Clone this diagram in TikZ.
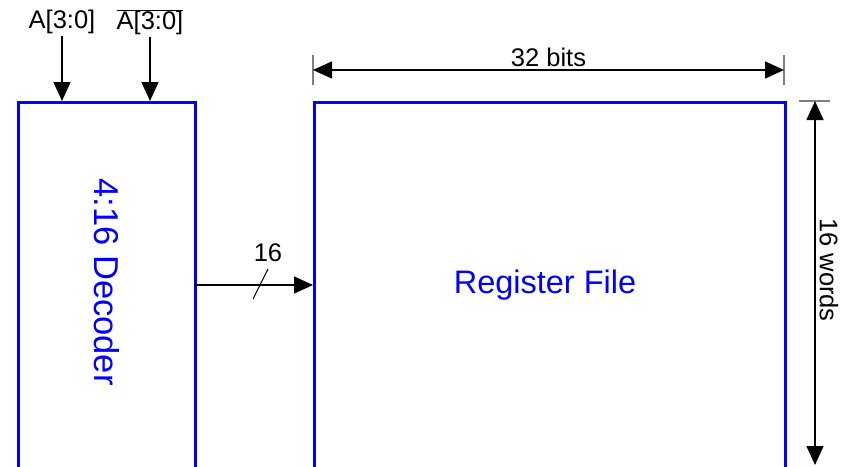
\documentclass[tikz,border=0pt]{standalone}
\usepackage{fontspec}
\setmainfont{Liberation Sans}
\usepackage{tikz}
\usetikzlibrary{arrows.meta, positioning, calc}

\begin{document}
\begin{tikzpicture}[
    x=1pt, y=-1pt,
    block/.style={rectangle, draw=blue, line width=2.8pt, anchor=north west, inner sep=0pt},
    blocktext/.style={text=blue, font=\fontsize{32.5}{36}\selectfont},
    lbl/.style={font=\fontsize{25.5}{28}\selectfont, inner sep=2pt},
    arrow/.style={-{Triangle[length=19pt, width=17pt]}, line width=1.4pt},
    dimarrow/.style={{Triangle[length=19pt, width=17pt]}-{Triangle[length=19pt, width=17pt]}, line width=1.4pt},
    tickline/.style={draw=gray, line width=1.4pt}
]
    \clip (0,0) rectangle (843,466);

    % Components
    \node[block, minimum width=177pt, minimum height=440pt] (dec) at (17,101) {};
    \node[block, minimum width=471pt, minimum height=440pt] (rf) at (313,101) {};
    \node[blocktext, rotate=-90, font=\fontsize{34.5}{38}\selectfont] (dectext) at (107,282) {4:16 Decoder};
    \node[blocktext] (rftext) at (545,285) {Register File};

    % Inputs
    \node[lbl] (a) at (62,22) {A[3:0]};
    \node[lbl] (abar) at (150,22) {$\overline{\mbox{A[3:0]}}$};
    \draw[arrow] (a) -- (a |- dec.north);
    \draw[arrow] (abar) -- (abar |- dec.north);

    % Decoder output bus
    \coordinate (busout) at (194,285);
    \draw[arrow] (busout) -- (busout -| rf.west);
    \draw[line width=1pt] (253,299) -- (268,269);
    \node[lbl] (buswidth) at (268,253) {16};

    % Dimensions
    \coordinate (tl) at (313,70);
    \coordinate (tr) at (784,70);
    \draw[tickline] (313,55) -- (313,85);
    \draw[tickline] (784,55) -- (784,85);
    \draw[dimarrow] (tl) -- node[lbl, above=1pt] (bits) {32 bits} (tr);

    \coordinate (vt) at (815,101);
    \coordinate (vb) at (815,465);
    \draw[tickline] (799,101) -- (830,101);
    \draw[dimarrow] (vt) -- (vb);
    \node[lbl, rotate=-90] (words) at (829,270) {16 words};
\end{tikzpicture}
\end{document}
